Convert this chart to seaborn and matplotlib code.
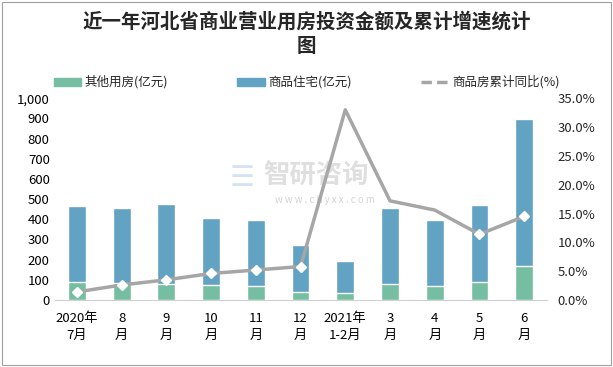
import matplotlib
matplotlib.use('Agg')
import matplotlib.pyplot as plt
import seaborn as sns
import pandas as pd
from matplotlib.patches import Patch, Rectangle
from matplotlib.lines import Line2D
from matplotlib.ticker import FuncFormatter

sns.set_style("white")
plt.rcParams['font.family'] = ['Noto Sans CJK SC', 'DejaVu Sans']
plt.rcParams['axes.unicode_minus'] = False

# Data
months = ['2020年\n7月', '8\n月', '9\n月', '10\n月', '11\n月', '12\n月',
          '2021年\n1-2月', '3\n月', '4\n月', '5\n月', '6\n月']
other_use = [91, 83, 79, 74, 69, 41, 35, 79, 69, 91, 169]
residential = [375, 373, 397, 332, 328, 232, 158, 377, 328, 380, 728]
growth_pct = [1.4, 2.6, 3.5, 4.6, 5.2, 5.8, 33.0, 17.2, 15.6, 11.4, 14.5]

green = '#76BEA1'
blue = '#62A2C3'
gray = '#A6A6A6'

df = pd.DataFrame({'month': months, 'other': other_use, 'res': residential})
df['total'] = df['other'] + df['res']

fig = plt.figure(figsize=(6.13, 3.67), dpi=100)
ax = fig.add_axes([0.089, 0.1826, 0.8026, 0.5496])

# stacked bars: total in blue, then green on top of it from 0
sns.barplot(data=df, x='month', y='total', color=blue, width=0.4,
            saturation=1, ax=ax)
sns.barplot(data=df, x='month', y='other', color=green, width=0.4,
            saturation=1, ax=ax)

ax.set_ylim(0, 1000)
ax.set_xlim(-0.5, len(months) - 0.5)
ax.set_yticks(range(0, 1001, 100))
ax.yaxis.set_major_formatter(FuncFormatter(lambda v, p: f'{int(v):,}'))
ax.set_xlabel('')
ax.set_ylabel('')
ax.tick_params(axis='both', length=0, labelsize=9.5, colors='black')
ax.tick_params(axis='x', pad=9)
for lbl in ax.get_xticklabels():
    lbl.set_linespacing(1.35)
for s in ['top', 'left', 'right']:
    ax.spines[s].set_visible(False)
ax.spines['bottom'].set_color('#D0D0D0')

ax2 = ax.twinx()
ax2.plot(range(len(months)), growth_pct, color=gray, lw=2.5, zorder=3)
ax2.plot([0, 1, 2, 3, 4, 5, 9, 10],
         [growth_pct[i] for i in [0, 1, 2, 3, 4, 5, 9, 10]],
         ls='none', marker='D', ms=5.5, mfc='white', mec='white', zorder=4)
ax2.set_ylim(0, 35)
ax2.set_yticks(range(0, 36, 5))
ax2.yaxis.set_major_formatter(FuncFormatter(lambda v, p: f'{v:.1f}%'))
ax2.tick_params(axis='y', length=0, labelsize=9.5, pad=8)
for s in ['top', 'left', 'right', 'bottom']:
    ax2.spines[s].set_visible(False)

# watermark
fig.text(0.515, 0.52, '智研咨询', fontsize=19, color='#B0B0B0', alpha=0.4,
         ha='center', va='center', fontweight='bold')
fig.text(0.53, 0.455, 'w w w . c h y x x . c o m', fontsize=7, color='#A0A0A0',
         alpha=0.45, ha='center', va='center')
fig.text(0.395, 0.515, '\u2630', fontsize=20, color='#9EC3E6', alpha=0.45,
         ha='center', va='center', family=['DejaVu Sans'])

fig.text(0.5, 0.940, '近一年河北省商业营业用房投资金额及累计增速统计',
         ha='center', va='center', fontsize=14, fontweight='bold')
fig.text(0.5, 0.872, '图', ha='center', va='center', fontsize=14,
         fontweight='bold')

handles = [Patch(color=green), Patch(color=blue),
           Line2D([0], [0], color=gray, lw=2.5, ls=(0, (3, 1.5)))]
labels = ['其他用房(亿元)', '商品住宅(亿元)', '商品房累计同比(%)']
fig.legend(handles, labels, ncol=3, loc='center', bbox_to_anchor=(0.5, 0.776),
           frameon=False, fontsize=9, columnspacing=5.5, handlelength=2.2,
           handleheight=0.6, handletextpad=0.3)

fig.patches.append(Rectangle((0.003, 0.005), 0.994, 0.99, transform=fig.transFigure,
                             fill=False, edgecolor='#A0A0A0', lw=0.8))

plt.savefig('out.png', dpi=100)
plt.close()
